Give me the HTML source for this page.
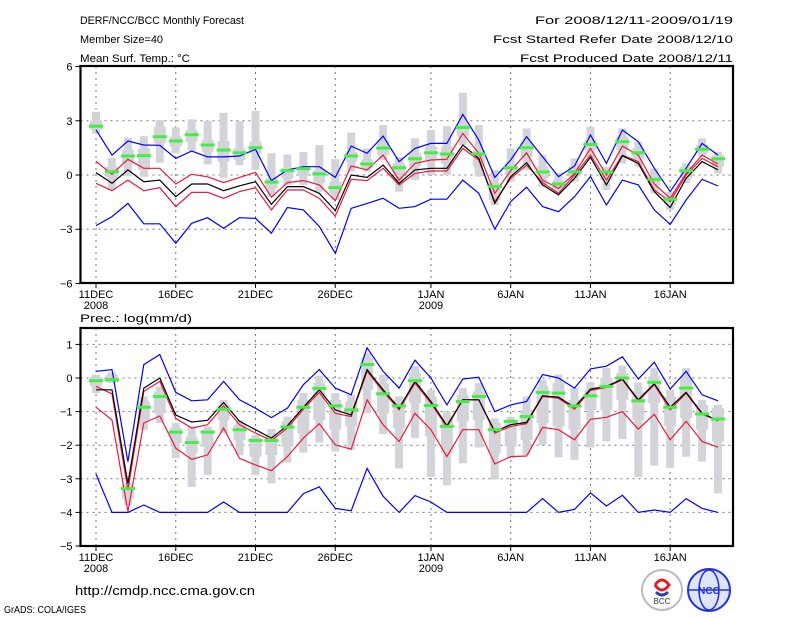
<!DOCTYPE html>
<html><head><meta charset="utf-8"><style>
body{margin:0;background:#fff;}
svg{display:block;font-family:"Liberation Sans",sans-serif;}
</style></head><body>
<svg id="c" width="800" height="618" viewBox="0 0 800 618">
<g font-size="11" fill="#000">
<text x="80" y="24" textLength="164" lengthAdjust="spacingAndGlyphs">DERF/NCC/BCC Monthly Forecast</text>
<text x="80" y="43" textLength="83" lengthAdjust="spacingAndGlyphs">Member Size=40</text>
<text x="80" y="62" textLength="110" lengthAdjust="spacingAndGlyphs">Mean Surf. Temp.: °C</text>
<text x="733" y="24" text-anchor="end" textLength="198" lengthAdjust="spacingAndGlyphs">For 2008/12/11-2009/01/19</text>
<text x="733" y="43" text-anchor="end" textLength="240" lengthAdjust="spacingAndGlyphs">Fcst Started Refer Date 2008/12/10</text>
<text x="733" y="62" text-anchor="end" textLength="213" lengthAdjust="spacingAndGlyphs">Fcst Produced Date 2008/12/11</text>
<text x="80" y="322" textLength="112" lengthAdjust="spacingAndGlyphs">Prec.: log(mm/d)</text>
</g>
<g>
<text x="75" y="595" font-size="13" textLength="180" lengthAdjust="spacingAndGlyphs">http://cmdp.ncc.cma.gov.cn</text>
<text x="4" y="613" font-size="10" textLength="82" lengthAdjust="spacingAndGlyphs">GrADS: COLA/IGES</text>
<g>
<circle cx="662" cy="590" r="20" fill="#fff" stroke="#bbb" stroke-width="2"/>
<path d="M655 585 q7 -10 14 0 q-7 10 -14 0" fill="none" stroke="#e02020" stroke-width="3"/>
<path d="M656 592 q6 6 12 0" fill="none" stroke="#2040c0" stroke-width="3"/>
<text x="662" y="604" font-size="8" text-anchor="middle" fill="#333">BCC</text>
</g>
<g>
<circle cx="709" cy="590" r="21" fill="#dfe4ff" stroke="#2030e0" stroke-width="2"/>
<ellipse cx="709" cy="590" rx="10" ry="20" fill="none" stroke="#2030e0" stroke-width="1.5"/>
<line x1="689" y1="590" x2="729" y2="590" stroke="#2030e0" stroke-width="1.5"/>
<text x="709" y="594" font-size="10" text-anchor="middle" fill="#2030e0" font-weight="bold">NCC</text>
</g>
</g>
</svg>
<script>
// ---- shared x data ----
const xTickLabels = ["11DEC","16DEC","21DEC","26DEC","1JAN","6JAN","11JAN","16JAN"];
const xTickDays = [0,5,10,15,21,26,31,36];
const yearLabels = ["2008","2009"];
const yearDays = [0,21];

// ---- temperature panel ----
const tTicks = [6,3,0,-3,-6];
const tBlueHi = [2.5,1.1,1.88,1.66,1.64,0.92,1.33,1.0,1.0,1.05,1.42,-0.31,0.28,0.46,0.46,-0.13,1.6,1.2,2.15,0.74,1.47,1.75,1.75,3.35,1.93,-0.13,0.83,2.12,1.01,-0.09,0.5,2.21,0.64,2.49,1.84,0.37,-0.92,0.37,1.75,1.1];
const tRedHi = [0.75,0.04,0.87,0.37,0.37,-0.5,0.04,-0.1,-0.42,-0.13,0.15,-1.23,-0.42,-0.31,-0.55,-1.42,0.5,0.28,1.1,-0.28,0.64,0.83,0.87,2.3,1.2,-1.01,0.24,1.23,-0.28,-0.74,0.09,1.47,0,1.6,1.1,-0.5,-1.29,0.09,1.1,0.61];
const tMean = [0.13,-0.46,0.28,-0.37,-0.28,-1.2,-0.5,-0.5,-0.87,-0.6,-0.37,-1.62,-0.64,-0.64,-1.01,-1.97,0,-0.13,0.55,-0.46,0.28,0.37,0.37,1.66,0.92,-1.57,-0.09,0.68,-0.55,-1.1,-0.18,0.98,-0.55,1.07,0.64,-0.92,-1.8,-0.18,0.74,0.28];
const tRedLo = [-0.46,-0.87,-0.28,-0.87,-0.7,-1.75,-0.96,-0.96,-1.29,-0.92,-0.7,-1.93,-0.83,-0.83,-1.29,-2.27,-0.24,-0.31,0.37,-0.55,0.09,0.22,0.22,1.47,0.83,-1.47,-0.18,0.55,-0.42,-1.01,0,1.1,-0.28,1.1,0.74,-0.83,-1.47,0,0.92,0.46];
const tBlueLo = [-2.8,-2.3,-1.57,-2.7,-2.7,-3.78,-2.67,-2.36,-2.95,-2.36,-2.4,-3.22,-1.8,-1.93,-2.85,-4.33,-1.84,-1.57,-1.29,-1.84,-1.75,-1.34,-1.34,-0.28,-1.01,-3.0,-1.47,-0.68,-1.75,-2.03,-1.2,-0.09,-1.66,-0.28,-0.55,-1.93,-2.73,-1.38,-0.24,-0.61];
const tMedian = [2.7,0.18,1.05,1.07,2.12,1.88,2.23,1.66,1.38,1.23,1.51,-0.39,0.24,0.35,0.06,-0.7,1.05,0.61,1.49,0.4,0.9,1.23,1.16,2.63,1.16,-0.64,0.4,1.51,0.17,-0.5,0.17,1.69,0.17,1.84,1.23,-0.24,-1.34,0.24,1.42,0.9];
const tWhiskHi = [3.5,0.95,2.06,2.15,3.04,2.63,3.08,3.0,3.44,2.98,3.54,1.2,1.14,1.27,1.66,0.88,2.34,1.47,2.76,1.0,2.03,2.49,2.7,4.55,2.76,0.28,1.47,2.58,1.1,0.13,0.92,2.67,0.46,2.58,1.84,0.37,-0.92,0.64,2.03,1.29];
const tWhiskLo = [2.3,-0.83,-0.05,-0.1,0.68,1.2,1.34,0.59,-0.15,0.55,0.28,-1.2,-0.55,-0.55,-0.92,-1.38,0.18,0.18,0.83,-0.92,-0.28,0,0,1.66,-0.09,-1.66,-0.37,0.28,-0.64,-0.92,-0.37,0.92,-0.83,0.64,0.46,-1.01,-1.93,-0.46,1.01,0.09];
const tBoxHi = [3.0,0.46,1.38,1.47,2.67,2.12,2.49,1.93,1.88,1.47,1.84,-0.18,0.37,0.5,0.28,-0.37,1.29,0.87,1.93,0.64,1.2,1.57,1.57,2.85,1.38,-0.46,0.64,1.84,0.46,-0.28,0.46,1.93,0.28,2.12,1.47,0,-1.2,0.46,1.66,1.1];
const tBoxLo = [2.5,-0.18,0.64,0.28,1.75,1.57,1.84,1.29,0.74,0.83,1.2,-0.74,-0.18,0,-0.42,-1.01,0.74,0.37,1.1,0,0.46,0.83,0.64,2.12,0.46,-1.38,0,1.01,-0.18,-0.74,-0.09,1.38,-0.28,1.38,0.92,-0.55,-1.66,-0.18,1.2,0.46];

// ---- precipitation panel ----
const pTicks = [1,0,-1,-2,-3,-4,-5];
const pBlueHi = [0.2,0.25,-2.49,0.4,0.7,-0.43,-0.68,-0.65,-0.1,-0.65,-0.9,-1.18,-0.9,-0.2,0.25,-0.3,-0.5,0.9,0.2,-0.3,0.53,0,-0.8,-0.03,0.02,-1.0,-0.8,-0.7,0.1,0,-0.3,0.27,0.35,0.63,-0.03,0.47,-0.33,0.2,-0.5,-0.68];
const pRedHi = [-0.25,-0.47,-3.34,-0.4,-0.1,-1.2,-1.49,-1.39,-0.83,-1.39,-1.64,-1.86,-1.49,-0.93,-0.43,-1.05,-1.15,0.2,-0.4,-0.95,-0.15,-0.75,-1.46,-0.65,-0.65,-1.64,-1.44,-1.36,-0.55,-0.6,-0.93,-0.37,-0.28,-0.05,-0.68,-0.2,-0.95,-0.45,-1.08,-1.27];
const pMean = [-0.35,-0.35,-3.14,-0.3,0,-1.1,-1.31,-1.26,-0.73,-1.29,-1.54,-1.79,-1.42,-0.87,-0.35,-0.95,-1.1,0.25,-0.35,-0.9,-0.1,-0.7,-1.42,-0.65,-0.65,-1.59,-1.39,-1.32,-0.53,-0.57,-0.87,-0.33,-0.25,-0.03,-0.65,-0.17,-0.87,-0.43,-1.05,-1.27];
const pRedLo = [-0.87,-1.25,-3.98,-1.34,-1.13,-2.09,-2.42,-2.29,-1.49,-2.39,-2.59,-2.76,-2.34,-1.79,-1.36,-1.99,-2.12,-0.65,-1.39,-1.89,-1.05,-1.54,-2.34,-1.54,-1.54,-2.56,-2.34,-2.32,-1.47,-1.54,-1.84,-1.23,-1.17,-1.0,-1.52,-1.08,-1.84,-1.29,-1.89,-2.06];
const pBlueLo = [-2.86,-4.0,-4.0,-3.78,-4.0,-4.0,-4.0,-4.0,-3.69,-4.0,-4.0,-4.0,-4.0,-3.44,-3.24,-3.88,-3.95,-2.69,-3.52,-4.0,-3.5,-3.69,-4.0,-4.0,-4.0,-4.0,-4.0,-4.0,-3.59,-4.0,-3.91,-3.42,-3.81,-3.49,-4.0,-3.93,-4.0,-3.59,-3.88,-4.0];
const pMedian = [-0.08,-0.05,-3.29,-0.87,-0.55,-1.61,-1.92,-1.61,-0.93,-1.54,-1.86,-1.86,-1.46,-0.87,-0.31,-0.83,-0.95,0.4,-0.47,-0.83,-0.08,-0.82,-1.44,-0.7,-0.55,-1.54,-1.29,-1.15,-0.43,-0.45,-0.83,-0.53,-0.25,0,-0.68,-0.13,-0.87,-0.3,-1.07,-1.22];
const pWhiskHi = [0.1,0.17,-3.14,-0.55,-0.25,-1.34,-1.44,-1.44,-0.65,-1.25,-1.69,-1.52,-1.15,-0.45,0.07,-0.45,-0.5,0.75,0.1,-0.55,0.35,-0.35,-1.0,-0.3,-0.15,-1.2,-1.15,-0.55,-0.05,0.1,-0.3,-0.13,0.3,0.37,-0.13,0.3,-0.35,0.3,-0.65,-0.8];
const pWhiskLo = [-0.45,-0.15,-3.78,-1.54,-1.34,-2.39,-3.24,-2.89,-1.64,-2.29,-2.89,-3.14,-2.52,-2.22,-1.92,-2.19,-2.14,-1.05,-1.67,-2.69,-1.79,-2.94,-3.19,-2.54,-2.07,-3.02,-2.39,-2.29,-1.99,-2.36,-2.44,-2.07,-1.89,-1.82,-2.94,-2.61,-2.67,-2.34,-2.49,-3.43];
const pBoxHi = [0.03,0.1,-3.19,-0.7,-0.4,-1.49,-1.74,-1.54,-0.8,-1.39,-1.79,-1.69,-1.29,-0.65,-0.15,-0.65,-0.7,0.6,-0.15,-0.65,0.15,-0.55,-1.15,-0.5,-0.4,-1.34,-1.29,-0.95,-0.25,-0.15,-0.65,-0.35,0,0.15,-0.4,0.05,-0.55,0,-0.8,-0.9];
const pBoxLo = [-0.25,-0.13,-3.59,-1.25,-1.05,-1.94,-2.24,-2.04,-1.25,-1.84,-2.34,-2.29,-2.04,-1.64,-1.25,-1.54,-1.44,-0.35,-1.05,-1.49,-0.75,-1.74,-2.24,-1.29,-1.25,-2.24,-2.04,-1.84,-1.34,-1.44,-1.54,-0.95,-0.95,-0.65,-1.25,-0.75,-1.44,-1.2,-1.54,-1.89];

const NS = "http://www.w3.org/2000/svg";
const svg = document.getElementById("c");
const X0 = 80.5, X1 = 733;
function xs(d){ return 96 + d * 15.95; }
function mk(tag, attrs, parent){
  const e = document.createElementNS(NS, tag);
  for (const k in attrs) e.setAttribute(k, attrs[k]);
  parent.appendChild(e);
  return e;
}

function panel(opt){
  const g = mk("g", {}, svg);
  
  
  const ys = v => opt.zeroY - v * opt.k;
  opt.ticks.forEach(t => {
    const y = ys(t);
    if (y > opt.top + 1 && y < opt.bot - 1) {
      const l = mk("line", {x1:X0, x2:X1, y1:y, y2:y, stroke:"#777", "stroke-width":1, "stroke-dasharray":"2,4"}, g);
      
      
    }
    const tk = mk("line", {x1:X0-5, x2:X0, y1:y, y2:y, stroke:"#000"}, g);
    
    
    const tx = mk("text", {x:X0-8, y:y+4, "font-size":11, "text-anchor":"end"}, g);
    tx.textContent = (t < 0 ? "\u2212" + (-t) : String(t));
    
    
  });
  xTickDays.forEach((d, i) => {
    const x = xs(d);
    const l = mk("line", {x1:x, x2:x, y1:opt.top, y2:opt.bot, stroke:"#777", "stroke-width":1, "stroke-dasharray":"2,4"}, g);
    
    
    const tk = mk("line", {x1:x, x2:x, y1:opt.bot, y2:opt.bot+5, stroke:"#000"}, g);
    
    
    const tx = mk("text", {x:x, y:opt.bot+15, "font-size":11, "text-anchor":"middle"}, g);
    tx.textContent = xTickLabels[i];
    
    
  });
  yearDays.forEach((d, i) => {
    const tx = mk("text", {x:xs(d), y:opt.bot+26, "font-size":11, "text-anchor":"middle"}, g);
    tx.textContent = yearLabels[i];
    
    
  });
  for (let i = 0; i < opt.med.length; i++) {
    const x = xs(i);
    const w = mk("rect", {x:x-4, y:ys(opt.wh[i]), width:8, height:Math.max(1, ys(opt.wl[i]) - ys(opt.wh[i])), fill:"#d3d4d9"}, g);
    
    
    const b = mk("rect", {x:x-6, y:ys(opt.bh[i]), width:12, height:Math.max(1, ys(opt.bl[i]) - ys(opt.bh[i])), fill:"#d3d4d9"}, g);
    
    
  }
  const series = [[opt.bu,"#0000ff","blue-upper-line"],[opt.bl2,"#0000ff","blue-lower-line"],[opt.ru,"#e81c3c","red-upper-line"],[opt.rl,"#e81c3c","red-lower-line"],[opt.mean,"#000","ensemble-mean-line"]];
  series.forEach(s => {
    const p = mk("polyline", {points:s[0].map((v,i)=>xs(i).toFixed(1)+","+ys(v).toFixed(1)).join(" "), fill:"none", stroke:s[1], "stroke-width":1.2}, g);
    
    
  });
  for (let i = 0; i < opt.med.length; i++) {
    const m = mk("rect", {x:xs(i)-7, y:ys(opt.med[i])-1.5, width:14, height:3, fill:"#44ee44"}, g);
    
    
  }
  const f = mk("rect", {x:X0, y:opt.top, width:X1-X0, height:opt.bot-opt.top, fill:"none", stroke:"#000", "stroke-width":2.2}, g);
  
  
}

panel({name:"temperature-panel", top:66, bot:283, zeroY:175, k:18.08, ticks:tTicks,
  bu:tBlueHi, ru:tRedHi, mean:tMean, rl:tRedLo, bl2:tBlueLo, med:tMedian, wh:tWhiskHi, wl:tWhiskLo, bh:tBoxHi, bl:tBoxLo});
panel({name:"precipitation-panel", top:328, bot:546, zeroY:378, k:33.6, ticks:pTicks,
  bu:pBlueHi, ru:pRedHi, mean:pMean, rl:pRedLo, bl2:pBlueLo, med:pMedian, wh:pWhiskHi, wl:pWhiskLo, bh:pBoxHi, bl:pBoxLo});
</script>
</body></html>
